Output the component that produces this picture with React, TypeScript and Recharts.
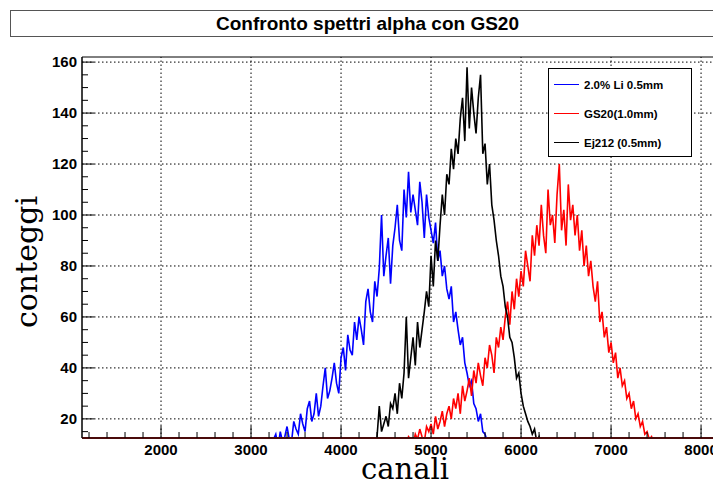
import { LineChart, Line, XAxis, YAxis, ReferenceLine, ReferenceArea } from 'recharts'

const BIN = 25

// conteggi per bin (25 canali)
const liStart = 3200
const liCounts = [
  3, 6, 12, 14, 9, 15, 11, 13,
  17, 12, 11, 19, 16, 14, 22, 18,
  15, 24, 27, 19, 22, 30, 21, 25,
  33, 40, 28, 31, 36, 42, 34, 30,
  44, 48, 39, 53, 47, 45, 58, 51,
  60, 55, 49, 66, 71, 62, 58, 74,
  68, 79, 100, 76, 84, 91, 73, 88,
  95, 104, 90, 86, 110, 99, 117, 101,
  108, 102, 96, 113, 105, 91, 108, 99,
  94, 89, 97, 82, 86, 76, 80, 71,
  67, 72, 58, 62, 55, 49, 52, 42,
  38, 33, 35, 26, 24, 19, 22, 15,
  14, 11, 8, 4,
]

const ejStart = 4300
const ejCounts = [
  4, 8, 12, 10, 13, 25, 15, 18,
  21, 17, 26, 24, 30, 22, 34, 28,
  38, 60, 36, 44, 52, 41, 58, 48,
  55, 62, 70, 64, 84, 72, 90, 82,
  96, 108, 100, 116, 112, 126, 118, 130,
  124, 138, 146, 129, 158, 134, 150, 140,
  132, 146, 155, 124, 128, 112, 120, 104,
  98, 90, 84, 76, 72, 64, 60, 52,
  50, 44, 36, 38, 30, 25, 22, 19,
  17, 14, 16, 11, 13, 8, 6, 4,
]

const gsStart = 4600
const gsCounts = [
  3, 7, 10, 8, 11, 9, 13, 12,
  10, 14, 12, 16, 13, 11, 17, 15,
  18, 14, 21, 16, 19, 23, 17, 22,
  25, 20, 28, 24, 30, 22, 33, 27,
  31, 36, 29, 39, 34, 42, 37, 33,
  44, 40, 49, 45, 38, 52, 48, 56,
  51, 60, 66, 57, 70, 63, 75, 68,
  78, 72, 86, 80, 74, 92, 84, 96,
  88, 104, 92, 85, 110, 96, 100, 89,
  108, 120, 94, 102, 88, 112, 98, 104,
  92, 100, 86, 94, 80, 88, 76, 82,
  72, 66, 74, 58, 62, 52, 56, 46,
  50, 42, 46, 36, 40, 33, 35, 28,
  30, 24, 27, 20, 22, 17, 19, 14,
  15, 12, 13, 10, 8, 9, 6, 4,
]

const xMajor = [2000, 3000, 4000, 5000, 6000, 7000, 8000]
const yMajor = [20, 40, 60, 80, 100, 120, 140, 160]
const xTicks = [
  1200, 1400, 1600, 1800, 2000, 2200, 2400, 2600, 2800, 3000, 3200, 3400, 3600, 3800,
  4000, 4200, 4400, 4600, 4800, 5000, 5200, 5400, 5600, 5800, 6000, 6200, 6400, 6600,
  6800, 7000, 7200, 7400, 7600, 7800, 8000, 8200,
]
const yTicks = [
  15, 20, 25, 30, 35, 40, 45, 50, 55, 60, 65, 70, 75, 80, 85, 90,
  95, 100, 105, 110, 115, 120, 125, 130, 135, 140, 145, 150, 155, 160,
]

const XMIN = 1122
const XMAX = 8266
const YMIN = 12.5
const YMAX = 162

const series = [
  { name: '2.0% Li 0.5mm', color: '#0000ff', start: liStart, counts: liCounts },
  { name: 'GS20(1.0mm)', color: '#ff0000', start: gsStart, counts: gsCounts },
  { name: 'Ej212 (0.5mm)', color: '#000000', start: ejStart, counts: ejCounts },
]

const toPoints = (start: number, counts: number[]) =>
  counts.map((y, i) => ({ x: start + i * BIN, y }))

const labelFont = { fontFamily: 'Liberation Sans, Arial, sans-serif', fontWeight: 700, fontSize: 15 }

function XTick(props: any) {
  const { x, y, payload } = props
  const major = xMajor.includes(payload.value)
  return (
    <g>
      <line x1={x} x2={x} y1={y} y2={y - (major ? 12 : 6)} stroke="#000" />
      {major && (
        <text x={x} y={y + 17} textAnchor="middle" fill="#000" style={labelFont}>
          {payload.value}
        </text>
      )}
    </g>
  )
}

function YTick(props: any) {
  const { x, y, payload } = props
  const major = yMajor.includes(payload.value)
  return (
    <g>
      <line x1={x} x2={x + (major ? 12 : 6)} y1={y} y2={y} stroke="#000" />
      {major && (
        <text x={x - 5} y={y + 5} textAnchor="end" fill="#000" style={labelFont}>
          {payload.value}
        </text>
      )}
    </g>
  )
}

function LegendBox() {
  return (
    <div
      style={{
        position: 'absolute',
        left: 548,
        top: 68,
        width: 144,
        height: 89,
        border: '1px solid #000',
        background: '#fff',
        boxSizing: 'border-box',
        paddingTop: 1,
      }}
    >
      {series.map((s) => (
        <div key={s.name} style={{ display: 'flex', alignItems: 'center', height: 29 }}>
          <div style={{ width: 25, height: 1.5, background: s.color, marginLeft: 5, marginRight: 5 }} />
          <span style={{ fontFamily: 'Liberation Sans, Arial, sans-serif', fontWeight: 700, fontSize: 11.5, color: '#000' }}>
            {s.name}
          </span>
        </div>
      ))}
    </div>
  )
}

export default function App() {
  return (
    <div
      style={{
        position: 'absolute',
        left: 0,
        top: 0,
        width: 713,
        height: 482,
        overflow: 'hidden',
        background: '#fff',
      }}
    >
      <div
        style={{
          position: 'absolute',
          left: 10,
          top: 10,
          width: 715,
          height: 27,
          border: '1px solid #555',
          boxSizing: 'border-box',
          textAlign: 'center',
          lineHeight: '25px',
          fontFamily: 'Liberation Sans, Arial, sans-serif',
          fontWeight: 700,
          fontSize: 19,
          color: '#000',
        }}
      >
        Confronto spettri alpha con GS20
      </div>
      <div style={{ position: 'absolute', left: 0, top: 0 }}>
        <LineChart width={745} height={482} margin={{ top: 57, right: 20, bottom: 0, left: 0 }}>
          <XAxis
            dataKey="x"
            type="number"
            domain={[XMIN, XMAX]}
            allowDataOverflow
            ticks={xTicks}
            interval={0}
            height={44}
            tickSize={0}
            tickMargin={0}
            tickLine={false}
            axisLine={{ stroke: '#4a0a0a', strokeWidth: 2 }}
            tick={<XTick />}
          />
          <YAxis
            type="number"
            domain={[YMIN, YMAX]}
            allowDataOverflow
            ticks={yTicks}
            interval={0}
            width={82}
            tickSize={0}
            tickMargin={0}
            tickLine={false}
            axisLine={{ stroke: '#000' }}
            tick={<YTick />}
          />
          <ReferenceArea x1={XMIN} x2={XMAX} y1={YMIN} y2={YMAX} fill="none" stroke="#000" strokeWidth={1} />
          {xMajor.map((v) => (
            <ReferenceLine key={'x' + v} x={v} stroke="#000" strokeDasharray="1.5 2.5" />
          ))}
          {yMajor.map((v) => (
            <ReferenceLine key={'y' + v} y={v} stroke="#000" strokeDasharray="1.5 2.5" />
          ))}
          {series.map((s) => (
            <Line
              key={s.name}
              name={s.name}
              data={toPoints(s.start, s.counts)}
              dataKey="y"
              type="linear"
              stroke={s.color}
              strokeWidth={1.6}
              dot={false}
              isAnimationActive={false}
            />
          ))}
        </LineChart>
      </div>
      <LegendBox />
      <div
        style={{
          position: 'absolute',
          left: 405,
          top: 469,
          transform: 'translate(-50%, -50%)',
          fontFamily: 'DejaVu Serif, serif',
          fontSize: 29,
          lineHeight: '30px',
          color: '#000',
          whiteSpace: 'nowrap',
        }}
      >
        canali
      </div>
      <div
        style={{
          position: 'absolute',
          left: 27,
          top: 262,
          transform: 'translate(-50%, -50%) rotate(-90deg)',
          fontFamily: 'DejaVu Serif, serif',
          fontSize: 30,
          lineHeight: '30px',
          color: '#000',
          whiteSpace: 'nowrap',
        }}
      >
        conteggi
      </div>
    </div>
  )
}
